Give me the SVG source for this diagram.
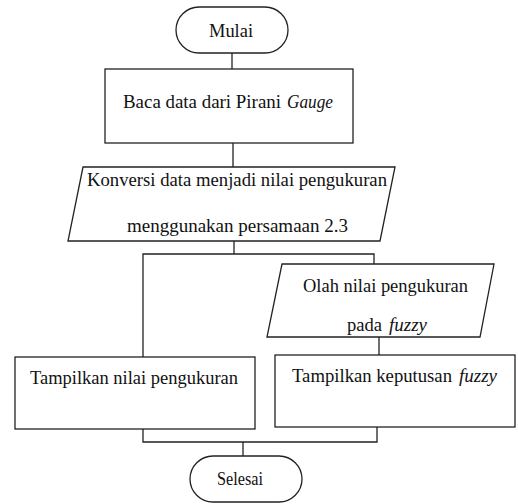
<svg xmlns="http://www.w3.org/2000/svg" width="518" height="504" viewBox="0 0 518 504">
<style>
.s{fill:#fff;stroke:#222;stroke-width:1.3}
.c{fill:none;stroke:#222;stroke-width:1.3}
.t{font-family:'Liberation Serif','Times New Roman',serif;font-size:19px;fill:#111}
.i{font-style:italic}
</style>
<rect width="518" height="504" fill="#fff"/>
<g id="connectors">
<line class="c" x1="232" y1="53" x2="232" y2="69"/>
<line class="c" x1="233" y1="143" x2="233" y2="167"/>
<polyline class="c" points="234,241 234,254"/>
<polyline class="c" points="143,357 143,254 374,254 374,264"/>
<line class="c" x1="379" y1="337" x2="379" y2="355"/>
<polyline class="c" points="143,429 143,442 377,442 377,427"/>
<line class="c" x1="243" y1="442" x2="243" y2="456"/>
</g>
<g id="mulai">
<rect class="s" x="176" y="7" width="112" height="46" rx="23" ry="23"/>
<text class="t" x="209" y="37" textLength="44" lengthAdjust="spacingAndGlyphs">Mulai</text>
</g>
<g id="baca">
<rect class="s" x="105" y="69" width="248" height="74"/>
<text class="t" x="123" y="108" textLength="158" lengthAdjust="spacingAndGlyphs">Baca data dari Pirani</text>
<text class="t i" x="287" y="108" textLength="46" lengthAdjust="spacingAndGlyphs">Gauge</text>
</g>
<g id="konversi">
<polygon class="s" points="83,167 395,167 380,241 68,241"/>
<text class="t" x="87" y="186" textLength="300" lengthAdjust="spacingAndGlyphs">Konversi data menjadi nilai pengukuran</text>
<text class="t" x="127" y="232" textLength="221" lengthAdjust="spacingAndGlyphs">menggunakan persamaan 2.3</text>
</g>
<g id="olah">
<polygon class="s" points="282,264 494,264 480,337 267,337"/>
<text class="t" x="303" y="292" textLength="165" lengthAdjust="spacingAndGlyphs">Olah nilai pengukuran</text>
<text class="t" x="347" y="331" textLength="35" lengthAdjust="spacingAndGlyphs">pada</text>
<text class="t i" x="389" y="331" textLength="38" lengthAdjust="spacingAndGlyphs">fuzzy</text>
</g>
<g id="tampil-nilai">
<rect class="s" x="15" y="357" width="240" height="72"/>
<text class="t" x="30" y="384" textLength="208" lengthAdjust="spacingAndGlyphs">Tampilkan nilai pengukuran</text>
</g>
<g id="tampil-fuzzy">
<rect class="s" x="275" y="355" width="240" height="72"/>
<text class="t" x="292" y="382" textLength="160" lengthAdjust="spacingAndGlyphs">Tampilkan keputusan</text>
<text class="t i" x="459" y="382" textLength="38" lengthAdjust="spacingAndGlyphs">fuzzy</text>
</g>
<g id="selesai">
<rect class="s" x="190" y="456" width="112" height="46" rx="23" ry="23"/>
<text class="t" x="217" y="485" textLength="46" lengthAdjust="spacingAndGlyphs">Selesai</text>
</g>
</svg>
